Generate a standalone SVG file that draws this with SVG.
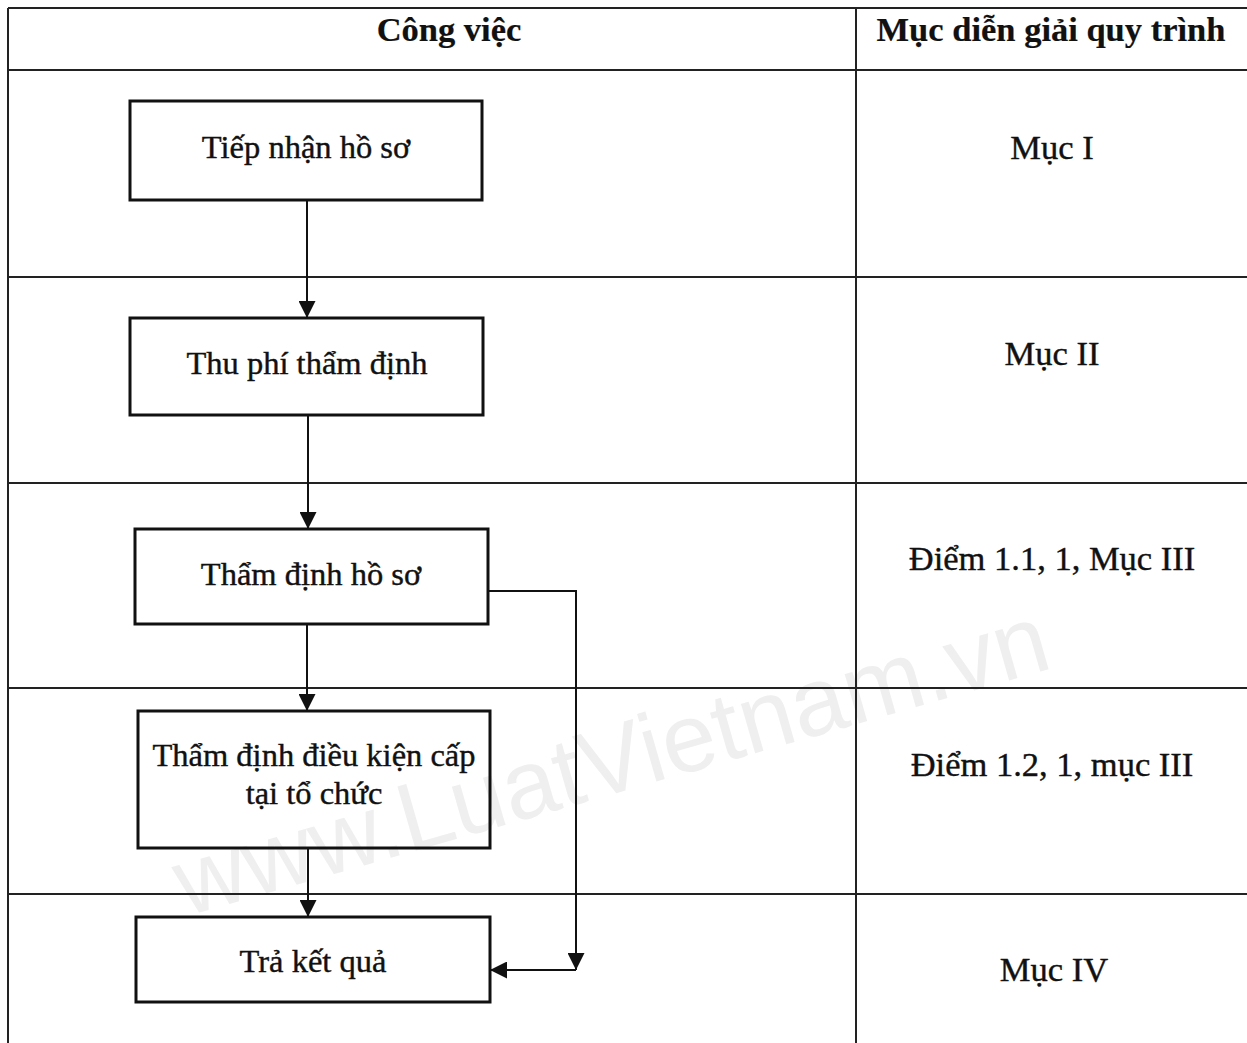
<svg xmlns="http://www.w3.org/2000/svg" width="1247" height="1043" viewBox="0 0 1247 1043">
<style>
.grid{stroke:#222;stroke-width:2;fill:none}
.box rect{fill:none;stroke:#111;stroke-width:3}
.t{font-family:"Liberation Serif","Times New Roman",serif;font-size:32.5px;fill:#111;stroke:#111;stroke-width:0.4;text-anchor:middle}
.r{font-size:34.5px}
.h{font-weight:bold;font-size:34.5px;stroke-width:0.2}
.c{stroke:#111;stroke-width:2;fill:none}
.wm{font-family:"Liberation Sans",Arial,sans-serif;font-size:97px;fill:#efefef;text-anchor:middle}
</style>
<defs>
<marker id="ah" viewBox="0 0 10 10" refX="10" refY="5" markerWidth="17" markerHeight="17" markerUnits="userSpaceOnUse" orient="auto">
<path d="M0,0 L10,5 L0,10 Z" fill="#111"/>
</marker>
</defs>
<rect width="1247" height="1043" fill="#fff"/>
<text class="wm" x="620" y="792" transform="rotate(-16 620 792)">www.LuatVietnam.vn</text>
<g id="table">
<line class="grid" x1="8" y1="8" x2="1247" y2="8"/>
<line class="grid" x1="8" y1="70" x2="1247" y2="70"/>
<line class="grid" x1="8" y1="277" x2="1247" y2="277"/>
<line class="grid" x1="8" y1="483" x2="1247" y2="483"/>
<line class="grid" x1="8" y1="688" x2="1247" y2="688"/>
<line class="grid" x1="8" y1="894" x2="1247" y2="894"/>
<line class="grid" x1="8" y1="8" x2="8" y2="1043"/>
<line class="grid" x1="856" y1="8" x2="856" y2="1043"/>
<text class="t h" x="449" y="41">Công việc</text>
<text class="t h" x="1051" y="41">Mục diễn giải quy trình</text>
<text class="t r" x="1052" y="159">Mục I</text>
<text class="t r" x="1052" y="365">Mục II</text>
<text class="t r" x="1052" y="570">Điểm 1.1, 1, Mục III</text>
<text class="t r" x="1052" y="776">Điểm 1.2, 1, mục III</text>
<text class="t r" x="1054" y="981">Mục IV</text>
</g>
<g id="n1" class="box"><rect x="130" y="101" width="352" height="99"/><text class="t" x="306" y="158">Tiếp nhận hồ sơ</text></g>
<g id="n2" class="box"><rect x="130" y="318" width="353" height="97"/><text class="t" x="307" y="374">Thu phí thẩm định</text></g>
<g id="n3" class="box"><rect x="135" y="529" width="353" height="95"/><text class="t" x="311" y="585">Thẩm định hồ sơ</text></g>
<g id="n4" class="box"><rect x="138" y="711" width="352" height="137"/><text class="t" x="314" y="766">Thẩm định điều kiện cấp</text><text class="t" x="314" y="804">tại tổ chức</text></g>
<g id="n5" class="box"><rect x="136" y="917" width="354" height="85"/><text class="t" x="313" y="972">Trả kết quả</text></g>
<g id="connectors">
<line class="c" x1="307" y1="200" x2="307" y2="318" marker-end="url(#ah)"/>
<line class="c" x1="308" y1="415" x2="308" y2="529" marker-end="url(#ah)"/>
<line class="c" x1="307" y1="624" x2="307" y2="711" marker-end="url(#ah)"/>
<line class="c" x1="308" y1="848" x2="308" y2="917" marker-end="url(#ah)"/>
<polyline class="c" points="488,591 576,591 576,970" marker-end="url(#ah)"/>
<line class="c" x1="576" y1="970" x2="490" y2="970" marker-end="url(#ah)"/>
</g>
</svg>
